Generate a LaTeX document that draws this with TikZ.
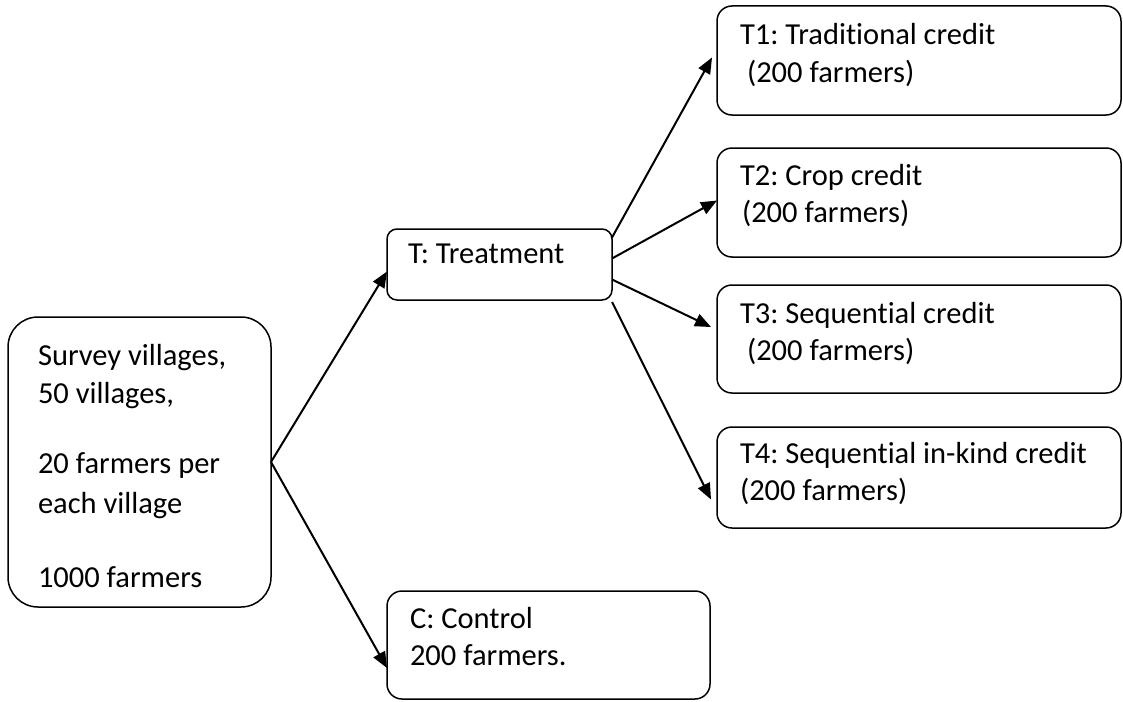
\documentclass[tikz,border=0pt]{standalone}
\usepackage{fontspec}
\setmainfont{Carlito}[Ligatures=NoCommon]
\usetikzlibrary{arrows.meta,calc}
\frenchspacing
\tikzset{
  box/.style={draw=black, line width=1.5pt, fill=white, inner sep=0pt, outer sep=0pt, anchor=north west, rounded corners=15pt},
  lbl/.style={anchor=base west, inner sep=0pt, outer sep=0pt, font=\fontsize{30.5}{37}\selectfont, text=black},
  conn/.style={line width=2pt, -{Triangle[length=16pt,width=13pt]}},
}
\begin{document}
\begin{tikzpicture}[x=1pt,y=-1pt]
\useasboundingbox (0,0) rectangle (1123,701);
% boxes
\node[box, rounded corners=30pt, minimum width=263pt, minimum height=290pt] (S) at (8,317) {};
\node[box, rounded corners=10pt, minimum width=225pt, minimum height=71pt] (T) at (387,229) {};
\node[box, minimum width=404pt, minimum height=109pt] (T1) at (717,6) {};
\node[box, minimum width=404pt, minimum height=109pt] (T2) at (717,148) {};
\node[box, minimum width=404pt, minimum height=108pt] (T3) at (717,285) {};
\node[box, minimum width=404pt, minimum height=101pt] (T4) at (717,427) {};
\node[box, minimum width=323pt, minimum height=108pt] (C) at (387,591) {};
% texts
\node[lbl] (s1) at (38,365) {Survey villages,};
\node[lbl] (s2) at (38,403) {50 villages,};
\node[lbl] (s3) at (38,473) {20 farmers per};
\node[lbl] (s4) at (38,513) {each village};
\node[lbl] (s5) at (38,587) {1000 farmers};
\node[lbl] (tt) at (408,263) {T: Treatment};
\node[lbl] (t1a) at (740,45) {T1: Traditional credit};
\node[lbl] (t1b) at (747,82) {(200 farmers)};
\node[lbl] (t2a) at (740,185) {T2: Crop credit};
\node[lbl] (t2b) at (742,222) {(200 farmers)};
\node[lbl] (t3a) at (740,323) {T3: Sequential credit};
\node[lbl] (t3b) at (747,360) {(200 farmers)};
\node[lbl] (t4a) at (740,463) {T4: Sequential in-kind credit};
\node[lbl] (t4b) at (740,500) {(200 farmers)};
\node[lbl] (c1) at (410,628) {C: Control};
\node[lbl] (c2) at (410,665) {200 farmers.};
% connectors
\draw[conn] (S.east) -- ([yshift=-7pt]T.west);
\draw[conn] (S.east) -- ([yshift=-23pt]C.west);
\draw[conn] ([yshift=27pt]T.east) -- ([xshift=-5pt,yshift=3pt]T1.west);
\draw[conn] ([yshift=6pt]T.east) -- ([yshift=2pt]T2.west);
\draw[conn] ([yshift=-15pt]T.east) -- ([xshift=-6pt,yshift=12pt]T3.west);
\draw[conn] ([yshift=-2pt]T.south east) -- ([xshift=-6pt,yshift=-22pt]T4.west);
\end{tikzpicture}
\end{document}
